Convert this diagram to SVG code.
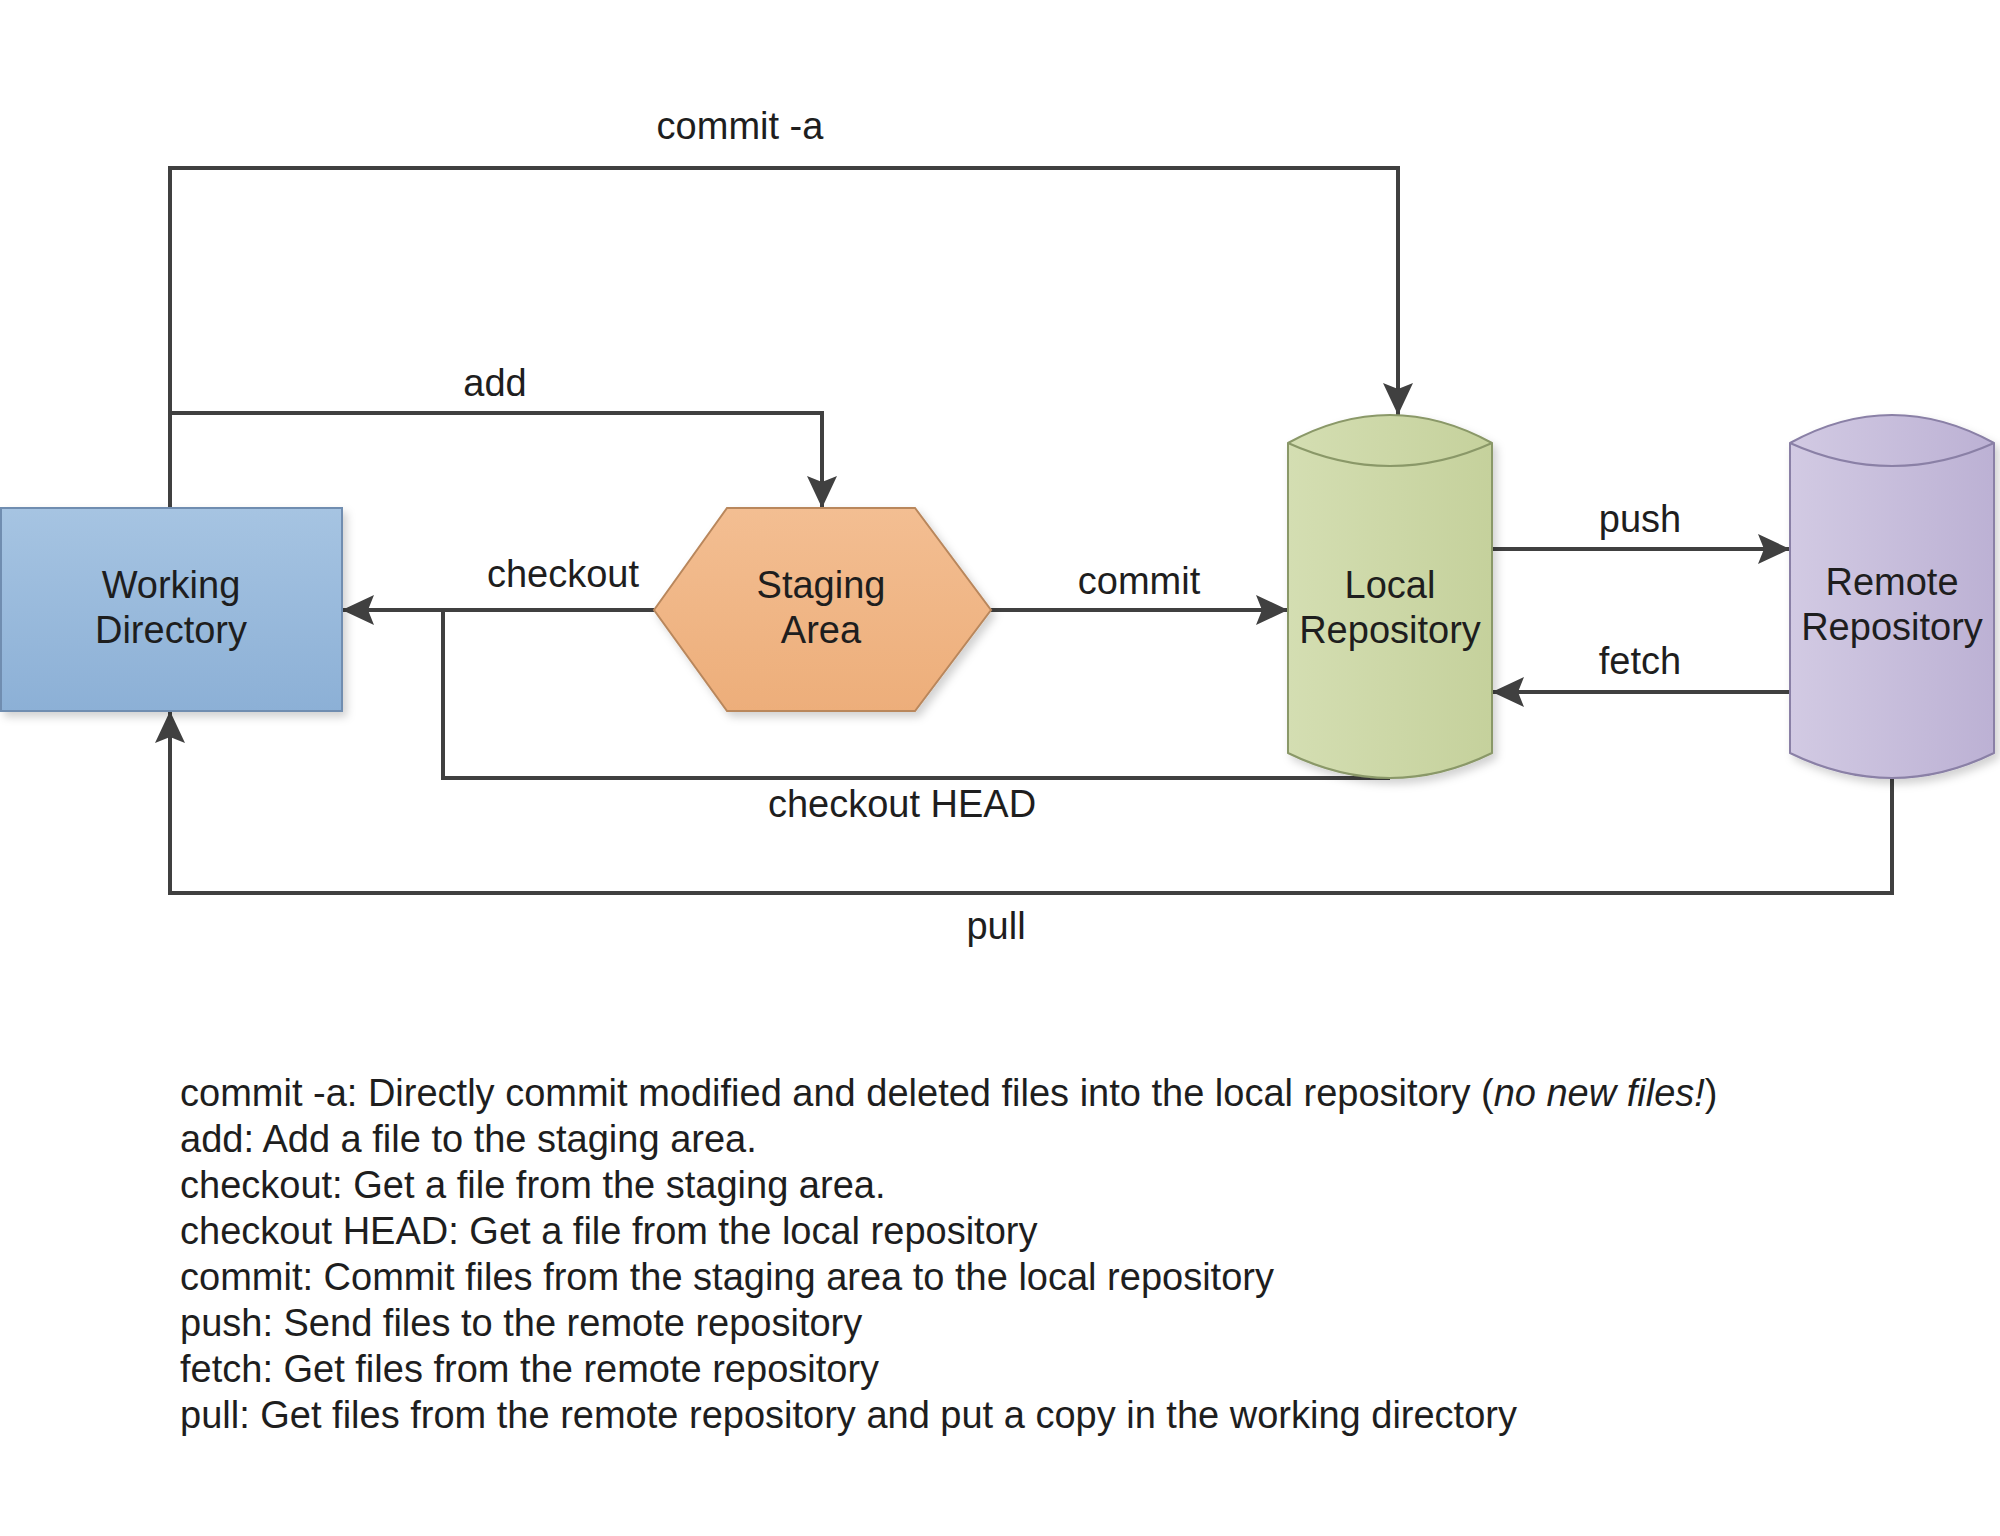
<svg xmlns="http://www.w3.org/2000/svg" width="2000" height="1536" viewBox="0 0 2000 1536">
<defs>
<style>
text{font-family:"Liberation Sans",Arial,sans-serif;font-size:38px;fill:#1e1e1e}
.c{text-anchor:middle}
.ln{fill:none;stroke:#404040;stroke-width:4}
.node{stroke-width:2}
</style>
<linearGradient id="gWD" x1="0" y1="0" x2="0" y2="1"><stop offset="0" stop-color="#a6c4e2"/><stop offset="1" stop-color="#8cb0d6"/></linearGradient>
<linearGradient id="gSA" x1="0" y1="0" x2="0" y2="1"><stop offset="0" stop-color="#f3be92"/><stop offset="1" stop-color="#edae7a"/></linearGradient>
<linearGradient id="gLR" x1="0" y1="0" x2="1" y2="0"><stop offset="0" stop-color="#d4deb2"/><stop offset="1" stop-color="#c5d19c"/></linearGradient>
<linearGradient id="gRR" x1="0" y1="0" x2="1" y2="0"><stop offset="0" stop-color="#d2cae3"/><stop offset="1" stop-color="#bcb1d4"/></linearGradient>
<filter id="sh" x="-10%" y="-10%" width="130%" height="130%"><feDropShadow dx="4" dy="5" stdDeviation="4" flood-color="#000" flood-opacity="0.18"/></filter>
<marker id="ar" viewBox="0 0 32 30" refX="32" refY="15" markerWidth="32" markerHeight="30" markerUnits="userSpaceOnUse" orient="auto"><path d="M0,0 L32,15 L0,30 L6,15 Z" fill="#404040"/></marker>
</defs>
<rect width="2000" height="1536" fill="#fff"/>
<g id="connectors">
<path class="ln" d="M170,508 V168 H1398 V415" marker-end="url(#ar)"/>
<path class="ln" d="M170,413 H822 V508" marker-end="url(#ar)"/>
<path class="ln" d="M654,610 H342" marker-end="url(#ar)"/>
<path class="ln" d="M1390,778 H443 V610"/>
<path class="ln" d="M991,610 H1288" marker-end="url(#ar)"/>
<path class="ln" d="M1492,549 H1790" marker-end="url(#ar)"/>
<path class="ln" d="M1790,692 H1492" marker-end="url(#ar)"/>
<path class="ln" d="M1892,778 V893 H170 V711" marker-end="url(#ar)"/>
<text class="c" x="740" y="139">commit -a</text>
<text class="c" x="495" y="396">add</text>
<text class="c" x="563" y="587">checkout</text>
<text class="c" x="1139" y="594">commit</text>
<text class="c" x="902" y="817">checkout HEAD</text>
<text class="c" x="1640" y="532">push</text>
<text class="c" x="1640" y="674">fetch</text>
<text class="c" x="996" y="939">pull</text>
</g>
<g id="working-directory">
<rect class="node" x="1" y="508" width="341" height="203" fill="url(#gWD)" stroke="#6f8db0" filter="url(#sh)"/>
<text class="c" x="171" y="598">Working</text>
<text class="c" x="171" y="643">Directory</text>
</g>
<g id="staging-area">
<polygon class="node" points="654,610 727,508 915,508 991,610 915,711 727,711" fill="url(#gSA)" stroke="#b9875c" filter="url(#sh)"/>
<text class="c" x="821" y="598">Staging</text>
<text class="c" x="821" y="643">Area</text>
</g>
<g id="local-repository">
<path class="node" d="M1288,443 Q1390,387 1492,443 L1492,753 Q1390,803 1288,753 Z" fill="url(#gLR)" stroke="#8a9868" filter="url(#sh)"/>
<path class="node" d="M1288,443 Q1390,489 1492,443" fill="none" stroke="#8a9868"/>
<text class="c" x="1390" y="598">Local</text>
<text class="c" x="1390" y="643">Repository</text>
</g>
<g id="remote-repository">
<path class="node" d="M1790,443 Q1892,387 1994,443 L1994,753 Q1892,803 1790,753 Z" fill="url(#gRR)" stroke="#8a80a6" filter="url(#sh)"/>
<path class="node" d="M1790,443 Q1892,489 1994,443" fill="none" stroke="#8a80a6"/>
<text class="c" x="1892" y="595">Remote</text>
<text class="c" x="1892" y="640">Repository</text>
</g>
<g id="legend">
<text x="180" y="1106">commit -a: Directly commit modified and deleted files into the local repository (<tspan font-style="italic">no new files!</tspan>)</text>
<text x="180" y="1152">add: Add a file to the staging area.</text>
<text x="180" y="1198">checkout: Get a file from the staging area.</text>
<text x="180" y="1244">checkout HEAD: Get a file from the local repository</text>
<text x="180" y="1290">commit: Commit files from the staging area to the local repository</text>
<text x="180" y="1336">push: Send files to the remote repository</text>
<text x="180" y="1382">fetch: Get files from the remote repository</text>
<text x="180" y="1428">pull: Get files from the remote repository and put a copy in the working directory</text>
</g>
</svg>
